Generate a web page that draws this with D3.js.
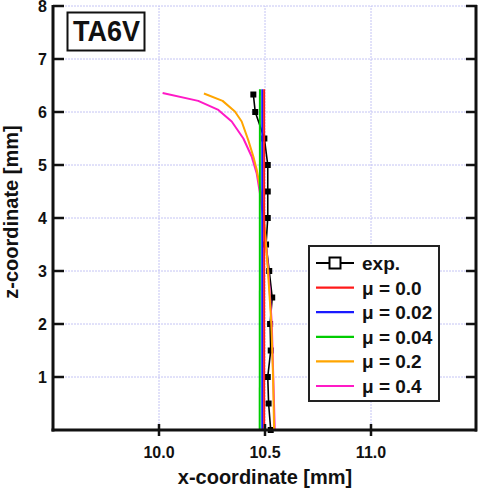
<!DOCTYPE html>
<html>
<head>
<meta charset="utf-8">
<script src="https://cdn.jsdelivr.net/npm/d3@7/dist/d3.min.js"></script>
<style>
  html, body { margin: 0; padding: 0; background: #fff; }
  svg { display: block; }
  text { font-family: "Liberation Sans", Arial, sans-serif; font-weight: bold; fill: #111; }
</style>
</head>
<body>
<svg id="chart" width="478" height="488"></svg>
<script>
// z-coordinate levels (mm) and measured x-coordinate (mm)
const expZ = [0, 0.5, 1.0, 1.5, 2.0, 2.5, 3.0, 3.5, 4.0, 4.5, 5.0, 5.5, 6.0, 6.33];
const expX = [10.527, 10.517, 10.513, 10.527, 10.524, 10.534, 10.520, 10.505, 10.513, 10.513, 10.513, 10.497, 10.454, 10.445];

// simulated profiles, friction coefficient mu
const mu00Z = [0, 6.43];
const mu00X = [10.496, 10.496];
const mu002Z = [0, 6.43];
const mu002X = [10.487, 10.487];
const mu004Z = [0, 6.43];
const mu004X = [10.475, 10.476];

const mu02Z = [0, 1.0, 2.0, 3.0, 3.9, 4.28, 4.59, 4.91, 5.16, 5.47, 5.82, 6.01, 6.21, 6.35];
const mu02X = [10.543, 10.538, 10.530, 10.514, 10.497, 10.489, 10.476, 10.461, 10.445, 10.421, 10.390, 10.358, 10.300, 10.212];

const mu04Z = [0, 1.0, 2.0, 3.0, 3.71, 4.09, 4.47, 4.84, 5.16, 5.50, 5.82, 6.04, 6.21, 6.36];
const mu04X = [10.546, 10.539, 10.532, 10.516, 10.500, 10.489, 10.476, 10.461, 10.437, 10.398, 10.343, 10.280, 10.185, 10.017];

const legendLabels = ["exp.", "μ = 0.0", "μ = 0.02", "μ = 0.04", "μ = 0.2", "μ = 0.4"];
const seriesColors = ["#000000", "#ff1a1a", "#1a1aff", "#00cc00", "#ffa500", "#ff1ac6"];
const xTicks = [10.0, 10.5, 11.0];
const yTicks = [1, 2, 3, 4, 5, 6, 7, 8];
const title = "TA6V";

const svg = d3.select("#chart");
const x = d3.scaleLinear().domain([9.5, 11.5]).range([53, 477]);
const y = d3.scaleLinear().domain([0, 8]).range([430, 6]);

// grid
const grid = svg.append("g").attr("stroke", "#c4c4f4").attr("stroke-width", 1).attr("stroke-dasharray", "2,1");
grid.selectAll(".gx").data(xTicks).join("line")
  .attr("x1", d => x(d)).attr("x2", d => x(d)).attr("y1", y(0)).attr("y2", y(8));
grid.selectAll(".gy").data(yTicks).join("line")
  .attr("x1", x(9.5)).attr("x2", x(11.5)).attr("y1", d => y(d)).attr("y2", d => y(d));

// data lines
const line = d3.line().x(d => x(d[0])).y(d => y(d[1]));
const zip = (xs, zs) => xs.map((v, i) => [v, zs[i]]);

svg.append("path").datum(zip(expX, expZ)).attr("d", line)
  .attr("fill", "none").attr("stroke", seriesColors[0]).attr("stroke-width", 1.6);
svg.selectAll(".exp").data(zip(expX, expZ)).join("rect")
  .attr("x", d => x(d[0]) - 3).attr("y", d => y(d[1]) - 3)
  .attr("width", 6).attr("height", 6).attr("fill", "#000");

const sims = [
  [mu00X, mu00Z], [mu002X, mu002Z], [mu004X, mu004Z], [mu02X, mu02Z], [mu04X, mu04Z]
];
sims.slice().reverse().forEach((s, k) => {
  const i = sims.length - k;
  svg.append("path").datum(zip(s[0], s[1])).attr("d", line)
    .attr("fill", "none").attr("stroke", seriesColors[i]).attr("stroke-width", 2)
    .attr("stroke-linejoin", "round");
});

// axes
const axes = svg.append("g").attr("stroke", "#111").attr("stroke-width", 3);
axes.append("line").attr("x1", x(9.5)).attr("x2", x(9.5)).attr("y1", y(8) - 1).attr("y2", y(0) + 1.5);
axes.append("line").attr("x1", x(11.5) - 1).attr("x2", x(11.5) - 1).attr("y1", y(8) - 1).attr("y2", y(0) + 1.5);
axes.append("line").attr("x1", x(9.5) - 1.5).attr("x2", x(11.5)).attr("y1", y(0)).attr("y2", y(0));

const ticks = svg.append("g").attr("stroke", "#111").attr("stroke-width", 2.5);
ticks.selectAll(".tl").data(yTicks).join("line")
  .attr("x1", x(9.5)).attr("x2", x(9.5) + 11).attr("y1", d => y(d)).attr("y2", d => y(d));
ticks.selectAll(".tr").data(yTicks).join("line")
  .attr("x1", x(11.5) - 11).attr("x2", x(11.5)).attr("y1", d => y(d)).attr("y2", d => y(d));
ticks.selectAll(".tb").data(xTicks).join("line")
  .attr("x1", d => x(d)).attr("x2", d => x(d)).attr("y1", y(0) - 6).attr("y2", y(0) + 6);

// tick labels
svg.selectAll(".yl").data(yTicks).join("text")
  .attr("x", 47).attr("y", d => y(d) + 6)
  .attr("text-anchor", "end").attr("font-size", 16).text(d => d);
svg.selectAll(".xl").data(xTicks).join("text")
  .attr("x", d => x(d)).attr("y", 458)
  .attr("text-anchor", "middle").attr("font-size", 16).text(d => d.toFixed(1));

// axis titles
svg.append("text").attr("x", 265).attr("y", 484).attr("text-anchor", "middle")
  .attr("font-size", 20).text("x-coordinate [mm]");
svg.append("text").attr("transform", "translate(18,212) rotate(-90)")
  .attr("text-anchor", "middle").attr("font-size", 20).text("z-coordinate [mm]");

// material label
svg.append("rect").attr("x", 67.5).attr("y", 12.5).attr("width", 77).attr("height", 38)
  .attr("fill", "#fff").attr("stroke", "#111").attr("stroke-width", 2);
svg.append("text").attr("x", 73).attr("y", 41).attr("font-size", 29)
  .attr("textLength", 67).attr("lengthAdjust", "spacingAndGlyphs").text(title);

// legend
const lg = svg.append("g");
lg.append("rect").attr("x", 309).attr("y", 246).attr("width", 130).attr("height", 155)
  .attr("fill", "#fff").attr("stroke", "#222").attr("stroke-width", 2);
const rowY = i => 263 + i * 24.6;
legendLabels.forEach((lab, i) => {
  lg.append("line").attr("x1", 316).attr("x2", 354).attr("y1", rowY(i)).attr("y2", rowY(i))
    .attr("stroke", seriesColors[i]).attr("stroke-width", i === 0 ? 2 : 2.2);
  if (i === 0) {
    lg.append("rect").attr("x", 329.5).attr("y", rowY(i) - 5.5).attr("width", 11).attr("height", 11)
      .attr("fill", "#fff").attr("stroke", "#000").attr("stroke-width", 2);
  }
  lg.append("text").attr("x", 362).attr("y", rowY(i) + 7).attr("font-size", 19).text(lab);
});
</script>
</body>
</html>
